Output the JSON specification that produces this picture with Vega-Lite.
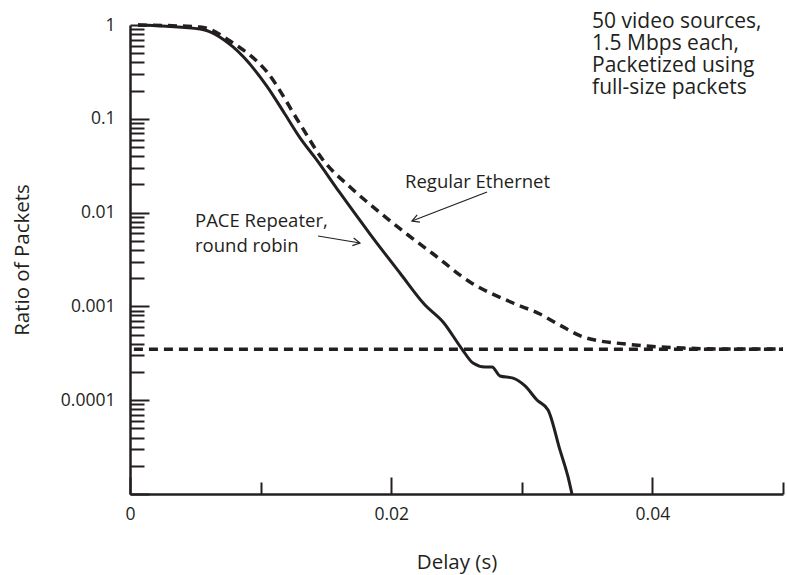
{
  "$schema": "https://vega.github.io/schema/vega-lite/v6.json",
  "width": 653,
  "height": 469,
  "autosize": {"type": "none"},
  "padding": {"left": 130, "top": 25, "right": 4, "bottom": 81},
  "background": "white",
  "config": {
    "view": {"stroke": null},
    "font": "Open Sans",
    "text": {"color": "#231f20"}
  },
  "datasets": {
    "curves": [
      {"series": "PACE", "x": 0.00061, "y": 1},
      {"series": "PACE", "x": 0.00536, "y": 0.906},
      {"series": "PACE", "x": 0.00789, "y": 0.583},
      {"series": "PACE", "x": 0.01049, "y": 0.222},
      {"series": "PACE", "x": 0.01187, "y": 0.1119},
      {"series": "PACE", "x": 0.01302, "y": 0.0626},
      {"series": "PACE", "x": 0.01424, "y": 0.0373},
      {"series": "PACE", "x": 0.01608, "y": 0.01618},
      {"series": "PACE", "x": 0.01838, "y": 0.00591},
      {"series": "PACE", "x": 0.02067, "y": 0.00227},
      {"series": "PACE", "x": 0.02259, "y": 0.001035},
      {"series": "PACE", "x": 0.02397, "y": 0.000682},
      {"series": "PACE", "x": 0.02542, "y": 0.000351},
      {"series": "PACE", "x": 0.02626, "y": 0.000249},
      {"series": "PACE", "x": 0.02718, "y": 0.000226},
      {"series": "PACE", "x": 0.02772, "y": 0.000226},
      {"series": "PACE", "x": 0.02833, "y": 0.000181},
      {"series": "PACE", "x": 0.02933, "y": 0.000172},
      {"series": "PACE", "x": 0.03025, "y": 0.000142},
      {"series": "PACE", "x": 0.03116, "y": 0.0001005},
      {"series": "PACE", "x": 0.03201, "y": 0.0000787},
      {"series": "PACE", "x": 0.03292, "y": 0.0000295},
      {"series": "PACE", "x": 0.03354, "y": 0.0000152},
      {"series": "PACE", "x": 0.03384, "y": 0.00001},
      {"series": "Ethernet", "x": 0.00061, "y": 1},
      {"series": "Ethernet", "x": 0.00536, "y": 0.952},
      {"series": "Ethernet", "x": 0.00789, "y": 0.643},
      {"series": "Ethernet", "x": 0.01049, "y": 0.316},
      {"series": "Ethernet", "x": 0.01302, "y": 0.088},
      {"series": "Ethernet", "x": 0.01478, "y": 0.0364},
      {"series": "Ethernet", "x": 0.01685, "y": 0.01875},
      {"series": "Ethernet", "x": 0.01937, "y": 0.00942},
      {"series": "Ethernet", "x": 0.02129, "y": 0.00577},
      {"series": "Ethernet", "x": 0.02312, "y": 0.00371},
      {"series": "Ethernet", "x": 0.02603, "y": 0.00182},
      {"series": "Ethernet", "x": 0.02933, "y": 0.001087},
      {"series": "Ethernet", "x": 0.03139, "y": 0.000829},
      {"series": "Ethernet", "x": 0.03292, "y": 0.000631},
      {"series": "Ethernet", "x": 0.03469, "y": 0.000473},
      {"series": "Ethernet", "x": 0.03599, "y": 0.000427},
      {"series": "Ethernet", "x": 0.03729, "y": 0.000406},
      {"series": "Ethernet", "x": 0.03982, "y": 0.000376},
      {"series": "Ethernet", "x": 0.04234, "y": 0.00036},
      {"series": "Ethernet", "x": 0.04518, "y": 0.000351},
      {"series": "Ethernet", "x": 0.05, "y": 0.000351},
      {"series": "Threshold", "x": 0.0003, "y": 0.00035},
      {"series": "Threshold", "x": 0.05, "y": 0.00035}
    ],
    "labels": [
      {"kind": "curve", "text": "Regular Ethernet", "x": 0.02106, "y": 0.01829},
      {"kind": "curve", "text": "PACE Repeater,\nround robin", "x": 0.00498, "y": 0.00702},
      {"kind": "note", "text": "50 video sources,\n1.5 Mbps each,\nPacketized using\nfull-size packets", "x": 0.03538, "y": 0.929}
    ],
    "arrows": [
      {"id": "pace", "x": 0.0144, "y": 0.00563, "x2": 0.01761, "y2": 0.00474},
      {"id": "eth", "x": 0.02734, "y": 0.0166, "x2": 0.02159, "y2": 0.00813}
    ]
  },
  "layer": [
    {
      "data": {"name": "curves"},
      "transform": [{"filter": "datum.series === 'PACE'"}],
      "mark": {"type": "line", "color": "#231f20", "strokeWidth": 3, "interpolate": "monotone"},
      "encoding": {
        "x": {
          "field": "x", "type": "quantitative",
          "scale": {"domain": [0, 0.05], "nice": false, "zero": false},
          "axis": {
            "values": [0, 0.01, 0.02, 0.03, 0.04, 0.05],
            "labelExpr": "round(datum.value*100)%2==0 ? (datum.value==0 ? '0' : toString(datum.value)) : ''",
            "tickSize": {"condition": {"test": "round(datum.value*100)%2==0", "value": -17}, "value": -12},
            "tickWidth": 2,
            "tickColor": "#231f20",
            "domainWidth": 2.5,
            "domainColor": "#231f20",
            "labelColor": "#231f20",
            "labelFontSize": 17.5,
            "labelPadding": 28,
            "labelFlush": false,
            "labelOverlap": false,
            "grid": false,
            "title": "Delay (s)",
            "titleFontSize": 20.5,
            "titleFontWeight": "normal",
            "titleColor": "#231f20",
            "titleY": 68,
            "titleBaseline": "middle"
          }
        },
        "y": {
          "field": "y", "type": "quantitative",
          "scale": {"type": "log", "domain": [0.00001, 1], "nice": false},
          "axis": {
            "values": [0.00001, 0.00002, 0.00003, 0.00004, 0.00005, 0.00006, 0.00007, 0.00008, 0.00009,
                       0.0001, 0.0002, 0.0003, 0.0004, 0.0005, 0.0006, 0.0007, 0.0008, 0.0009,
                       0.001, 0.002, 0.003, 0.004, 0.005, 0.006, 0.007, 0.008, 0.009,
                       0.01, 0.02, 0.03, 0.04, 0.05, 0.06, 0.07, 0.08, 0.09,
                       0.1, 0.2, 0.3, 0.4, 0.5, 0.6, 0.7, 0.8, 0.9, 1],
            "labelExpr": "(abs(log(datum.value)/LN10 - round(log(datum.value)/LN10)) < 0.001 && datum.value > 0.00005) ? toString(datum.value) : ''",
            "tickSize": {"condition": {"test": "abs(log(datum.value)/LN10 - round(log(datum.value)/LN10)) < 0.001", "value": -19}, "value": -14},
            "tickWidth": 2,
            "tickColor": "#231f20",
            "domainWidth": 2.5,
            "domainColor": "#231f20",
            "labelColor": "#231f20",
            "labelFontSize": 17.5,
            "labelPadding": 34,
            "labelOverlap": false,
            "labelFlush": false,
            "labelBound": false,
            "grid": false,
            "title": "Ratio of Packets",
            "titleFontSize": 20.5,
            "titleFontWeight": "normal",
            "titleColor": "#231f20",
            "titleX": -108,
            "titleBaseline": "middle"
          }
        }
      }
    },
    {
      "data": {"name": "curves"},
      "transform": [{"filter": "datum.series !== 'PACE'"}],
      "mark": {"type": "line", "color": "#231f20", "strokeWidth": 3.5, "strokeDash": [9, 6], "interpolate": "monotone"},
      "encoding": {
        "x": {"field": "x", "type": "quantitative"},
        "y": {"field": "y", "type": "quantitative"},
        "detail": {"field": "series"}
      }
    },
    {
      "data": {"name": "arrows"},
      "mark": {"type": "rule", "color": "#231f20", "strokeWidth": 1.2},
      "encoding": {
        "x": {"field": "x", "type": "quantitative"},
        "y": {"field": "y", "type": "quantitative"},
        "x2": {"field": "x2"},
        "y2": {"field": "y2"}
      }
    },
    {
      "data": {"name": "arrows"},
      "transform": [{"filter": "datum.id === 'pace'"}],
      "mark": {"type": "point", "shape": "M -1 -0.55 L 0 0 L -1 0.55", "filled": false, "stroke": "#231f20", "strokeWidth": 1.2, "size": 200, "angle": 9.5, "opacity": 1},
      "encoding": {
        "x": {"field": "x2", "type": "quantitative"},
        "y": {"field": "y2", "type": "quantitative"}
      }
    },
    {
      "data": {"name": "arrows"},
      "transform": [{"filter": "datum.id === 'eth'"}],
      "mark": {"type": "point", "shape": "M -1 -0.55 L 0 0 L -1 0.55", "filled": false, "stroke": "#231f20", "strokeWidth": 1.2, "size": 200, "angle": 159, "opacity": 1},
      "encoding": {
        "x": {"field": "x2", "type": "quantitative"},
        "y": {"field": "y2", "type": "quantitative"}
      }
    },
    {
      "data": {"name": "labels"},
      "transform": [{"filter": "datum.kind === 'curve'"}],
      "mark": {"type": "text", "align": "left", "baseline": "alphabetic", "fontSize": 18.5, "lineBreak": "\n", "lineHeight": 25, "color": "#231f20"},
      "encoding": {
        "x": {"field": "x", "type": "quantitative"},
        "y": {"field": "y", "type": "quantitative"},
        "text": {"field": "text"}
      }
    },
    {
      "data": {"name": "labels"},
      "transform": [{"filter": "datum.kind === 'note'"}],
      "mark": {"type": "text", "align": "left", "baseline": "alphabetic", "fontSize": 21, "lineBreak": "\n", "lineHeight": 22, "color": "#231f20"},
      "encoding": {
        "x": {"field": "x", "type": "quantitative"},
        "y": {"field": "y", "type": "quantitative"},
        "text": {"field": "text"}
      }
    }
  ]
}
